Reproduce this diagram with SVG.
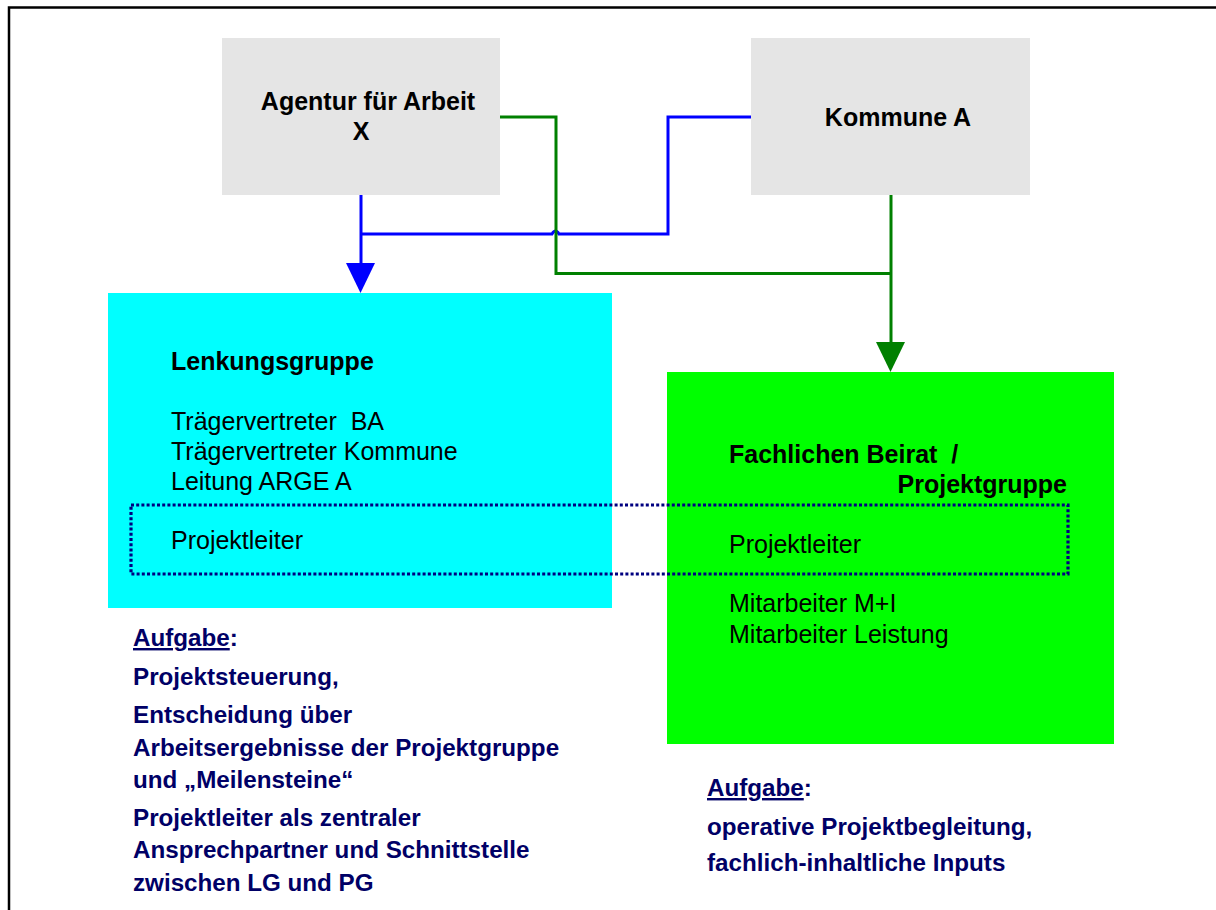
<svg xmlns="http://www.w3.org/2000/svg" width="1216" height="910" viewBox="0 0 1216 910">
<style>
.frame{fill:none;stroke:#000;stroke-width:2.5}
.grey{fill:#e5e5e5}
.hd{font-family:"Liberation Sans",Arial,sans-serif;font-weight:bold;font-size:25px;fill:#000}
.tx{font-family:"Liberation Sans",Arial,sans-serif;font-size:25px;fill:#000}
.task{font-family:"Liberation Sans",Arial,sans-serif;font-weight:bold;font-size:24.2px;fill:#000066}
.blue{fill:none;stroke:#0000ff;stroke-width:3}
.green{fill:none;stroke:#008000;stroke-width:3}
.dots{fill:none;stroke:#000080;stroke-width:3.2;stroke-dasharray:3 2.2}
</style>
<rect x="0" y="0" width="1216" height="910" fill="#fff"/>
<path class="frame" d="M9,920 V7.5 H1230"/>

<g id="connectors">
  <!-- blue: Agentur down to Lenkungsgruppe, joined by Kommune -->
  <path class="blue" stroke-width="2.5" d="M361,195 V264"/>
  <path class="blue" d="M361,234 H552 Q555.5,228 559,234 H668 V117 H751"/>
  <polygon points="346,263 375,263 360.5,293" fill="#0000ff"/>
  <!-- green: Kommune down to Fachlichen Beirat, joined by Agentur -->
  <path class="green" stroke-width="2.5" d="M500,117 H556 V273.5 H891"/>
  <path class="green" stroke-width="3.5" d="M891,195 V343"/>
  <polygon points="876,342 905,342 890.5,372" fill="#008000"/>
</g>

<g id="agentur">
  <rect class="grey" x="222" y="38" width="278" height="157"/>
  <text class="hd" x="368" y="110" text-anchor="middle">Agentur für Arbeit</text>
  <text class="hd" x="361" y="140" text-anchor="middle">X</text>
</g>

<g id="kommune">
  <rect class="grey" x="751" y="38" width="279" height="157"/>
  <text class="hd" x="898" y="126" text-anchor="middle">Kommune A</text>
</g>

<g id="lenkungsgruppe">
  <rect x="108" y="293" width="504" height="315" fill="#00ffff"/>
  <text class="hd" x="171" y="370">Lenkungsgruppe</text>
  <text class="tx" x="171" y="430" xml:space="preserve">Trägervertreter  BA</text>
  <text class="tx" x="171" y="460">Trägervertreter Kommune</text>
  <text class="tx" x="171" y="490">Leitung ARGE A</text>
  <text class="tx" x="171" y="549">Projektleiter</text>
</g>

<g id="projektgruppe">
  <rect x="667" y="372" width="447" height="372" fill="#00ff00"/>
  <text class="hd" x="729" y="463" xml:space="preserve">Fachlichen Beirat  /</text>
  <text class="hd" x="1067" y="493" text-anchor="end">Projektgruppe</text>
  <text class="tx" x="729" y="553">Projektleiter</text>
  <text class="tx" x="729" y="612">Mitarbeiter M+I</text>
  <text class="tx" x="729" y="643">Mitarbeiter Leistung</text>
</g>

<g id="projektleiter-schnittstelle">
  <rect class="dots" x="131" y="505" width="937" height="69"/>
</g>

<g id="aufgabe-lg">
  <text class="task" x="133" y="646"><tspan text-decoration="underline">Aufgabe</tspan>:</text>
  <text class="task" x="133" y="685">Projektsteuerung,</text>
  <text class="task" x="133" y="723">Entscheidung über</text>
  <text class="task" x="133" y="756">Arbeitsergebnisse der Projektgruppe</text>
  <text class="task" x="133" y="788">und „Meilensteine“</text>
  <text class="task" x="133" y="826">Projektleiter als zentraler</text>
  <text class="task" x="133" y="858">Ansprechpartner und Schnittstelle</text>
  <text class="task" x="133" y="891">zwischen LG und PG</text>
</g>

<g id="aufgabe-pg">
  <text class="task" x="707" y="796"><tspan text-decoration="underline">Aufgabe</tspan>:</text>
  <text class="task" x="707" y="835">operative Projektbegleitung,</text>
  <text class="task" x="707" y="871">fachlich-inhaltliche Inputs</text>
</g>
</svg>
